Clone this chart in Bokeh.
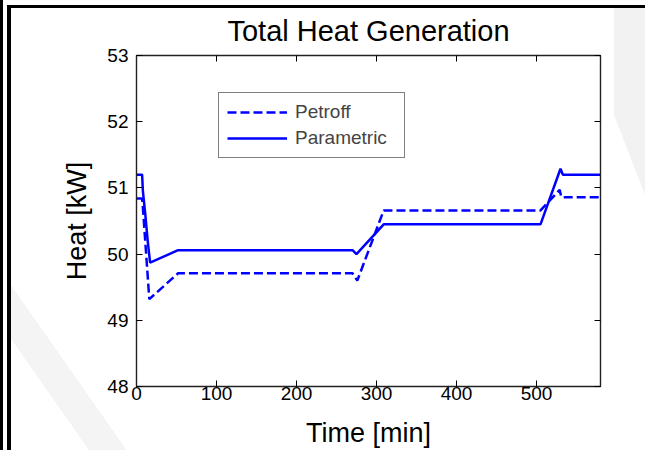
from bokeh.plotting import figure
from bokeh.models import LinearAxis, FixedTicker, Legend, LegendItem, Range1d
from bokeh.embed import file_html
from bokeh.resources import INLINE

# ---- data ----
time_parametric = [0, 7, 8, 11, 14, 17, 52, 270, 275, 309, 505, 530, 533, 580]
heat_parametric = [51.2, 51.2, 50.95, 50.6, 50.2, 49.87, 50.06, 50.06, 50.0, 50.45,
                   50.45, 51.29, 51.2, 51.2]

time_petroff = [0, 7, 8, 16, 52, 270, 276, 309, 505, 529, 531, 580]
heat_petroff = [50.84, 50.84, 50.7, 49.32, 49.71, 49.71, 49.6, 50.66, 50.66, 50.97,
                50.86, 50.86]

x_ticks = [0, 100, 200, 300, 400, 500]
y_ticks = [48, 49, 50, 51, 52, 53]

title_text = "Total Heat Generation"
x_label = "Time [min]"
y_label = "Heat [kW]"
series_names = ["Petroff", "Parametric"]

FONT = "Liberation Sans"
BLUE = "#0000ff"

# page background: screenshot frame lines and faint watermark
page_bg = ", ".join([
    "linear-gradient(black, black) 0px 0px / 3px 100% no-repeat",
    "linear-gradient(black, black) 7px 5px / 4px 100% no-repeat",
    "linear-gradient(black, black) 7px 5px / 100% 3px no-repeat",
    "linear-gradient(#f2f2f2, #f2f2f2) 614px 8px / 31px 108px no-repeat",
    "linear-gradient(to bottom left, #f2f2f2 50%, rgba(255,255,255,0) 50%) 614px 115px / 31px 80px no-repeat",
    "linear-gradient(55deg, rgba(255,255,255,0) 31%, #f4f4f4 31%, #f4f4f4 46%, rgba(255,255,255,0) 46%) 11px 270px / 125px 180px no-repeat",
    "white",
])

p = figure(width=645, height=450, output_backend="svg", toolbar_location=None,
           x_range=Range1d(0, 580), y_range=Range1d(48, 53),
           min_border_left=136, min_border_right=45, min_border_top=55,
           min_border_bottom=63, styles={"background": page_bg})

p.title.text = title_text
p.title.align = "center"
p.title.text_font = FONT
p.title.text_font_size = "29px"
p.title.text_font_style = "normal"
p.title.text_color = "black"
p.title.standoff = 18

p.xgrid.visible = False
p.ygrid.visible = False
p.outline_line_color = "#222222"
p.outline_line_width = 1.4
p.background_fill_color = "white"
p.border_fill_alpha = 0

for ax, ticks in ((p.xaxis[0], x_ticks), (p.yaxis[0], y_ticks)):
    ax.ticker = FixedTicker(ticks=ticks)
    ax.major_tick_in = 6
    ax.major_tick_out = 0
    ax.minor_tick_line_color = None
    ax.major_label_text_font = FONT
    ax.major_label_text_font_size = "19px"
    ax.major_label_text_color = "black"
    ax.major_label_text_line_height = 1.0
    ax.axis_label_text_font = FONT
    ax.axis_label_text_font_size = "27px"
    ax.axis_label_text_font_style = "normal"
    ax.axis_label_text_color = "black"
    ax.axis_label_text_line_height = 1.0
    ax.axis_line_color = "#222222"
    ax.major_tick_line_color = "black"

p.xaxis[0].axis_label = x_label
p.xaxis[0].major_label_standoff = 0
p.xaxis[0].axis_label_standoff = 15
p.yaxis[0].axis_label = y_label
p.yaxis[0].major_label_standoff = 8
p.yaxis[0].axis_label_standoff = 12

for loc, ticks in (("above", x_ticks), ("right", y_ticks)):
    ax = LinearAxis(ticker=FixedTicker(ticks=ticks), major_tick_in=6, major_tick_out=0,
                    minor_tick_line_color=None, major_label_text_font_size="0px",
                    major_label_text_color=None, major_label_standoff=0,
                    axis_line_color="#222222", major_tick_line_color="black")
    p.add_layout(ax, loc)

r_par = p.line(time_parametric, heat_parametric, line_color=BLUE, line_width=2.5)
r_pet = p.line(time_petroff, heat_petroff, line_color=BLUE, line_width=2.5, line_dash="9 4")

legend = Legend(items=[LegendItem(label=series_names[0], renderers=[r_pet]),
                       LegendItem(label=series_names[1], renderers=[r_par])],
                location=(82, 228), padding=8, spacing=4, margin=0,
                glyph_width=60, glyph_height=20, label_height=20, label_width=101,
                label_standoff=8,
                label_text_font=FONT, label_text_font_size="19px",
                border_line_color="black", border_line_width=1,
                background_fill_color="white", background_fill_alpha=1)
p.add_layout(legend)

open("out.html", "w").write(file_html(p, INLINE))
